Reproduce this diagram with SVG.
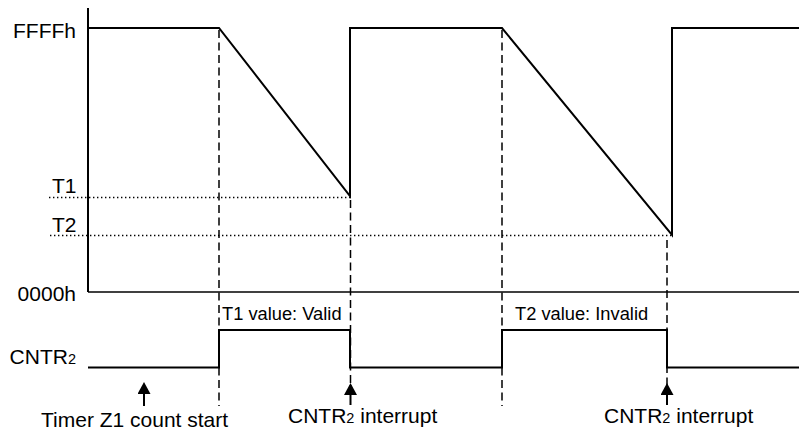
<svg xmlns="http://www.w3.org/2000/svg" width="799" height="428" viewBox="0 0 799 428">
  <defs>
    <style>
      .lbl { font-family: "Liberation Sans", Arial, sans-serif; font-size: 21px; fill: #000; }
      .small { font-size: 18.3px; }
      .sub { font-size: 14.5px; }
      .wave { fill: none; stroke: #000; stroke-width: 2; stroke-linejoin: miter; }
      .axis { fill: none; stroke: #000; stroke-width: 2; }
      .base { fill: none; stroke: #000; stroke-width: 1.6; }
      .dash { fill: none; stroke: #000; stroke-width: 1.5; stroke-dasharray: 8 4.5; }
      .dot { fill: none; stroke: #000; stroke-width: 1.4; stroke-dasharray: 1.4 2.6; }
      .arrow { fill: none; stroke: #000; stroke-width: 2; marker-end: url(#head); }
    </style>
    <marker id="head" markerUnits="userSpaceOnUse" viewBox="0 0 12 13" refX="10" refY="6.5" markerWidth="12" markerHeight="13" orient="auto">
      <path d="M0,0 L12,6.5 L0,13 Z" fill="#000"/>
    </marker>
  </defs>

  <!-- level guides for T1 and T2 -->
  <g id="guides">
    <line class="dot" x1="49" y1="197.5" x2="350" y2="197.5"/>
    <line class="dot" x1="50" y1="235.5" x2="671" y2="235.5"/>
  </g>

  <!-- count value axis -->
  <g id="axis">
    <line class="axis" x1="88" y1="8" x2="88" y2="292"/>
    <line class="base" x1="88" y1="292" x2="799" y2="292"/>
  </g>

  <!-- timer Z1 counter value -->
  <g id="counter">
    <polyline class="wave" points="88,28 219,28 350,196 350,28 502,28 672,235 672,28 799,28"/>
  </g>

  <!-- CNTR2 input signal -->
  <g id="cntr2-signal">
    <polyline class="wave" points="88,367.5 219,367.5 219,330 350,330 350,367.5 502,367.5 502,330 667,330 667,367.5 799,367.5"/>
  </g>

  <!-- edge markers and event arrows -->
  <g id="connectors">
    <line class="dash" x1="219" y1="30" x2="219" y2="406"/>
    <line class="dash" x1="350.5" y1="200" x2="350.5" y2="392"/>
    <line class="dash" x1="502" y1="30" x2="502" y2="406"/>
    <line class="dash" x1="667" y1="240" x2="667" y2="392"/>
    <line class="arrow" x1="144" y1="406" x2="144" y2="384"/>
    <line class="arrow" x1="350.5" y1="405" x2="350.5" y2="385"/>
    <line class="arrow" x1="667" y1="405" x2="667" y2="385"/>
  </g>

  <g id="label-ffff"><text class="lbl" x="76" y="38" text-anchor="end">FFFFh</text></g>
  <g id="label-t1"><text class="lbl" x="52" y="193">T1</text></g>
  <g id="label-t2"><text class="lbl" x="52" y="231.5">T2</text></g>
  <g id="label-0000"><text class="lbl" x="76" y="300.5" text-anchor="end">0000h</text></g>
  <g id="label-cntr2"><text class="lbl" x="76" y="363.5" text-anchor="end">CNTR<tspan class="sub">2</tspan></text></g>
  <g id="label-t1-valid"><text class="lbl small" x="222" y="320">T1 value: Valid</text></g>
  <g id="label-t2-invalid"><text class="lbl small" x="515" y="320">T2 value: Invalid</text></g>
  <g id="label-start"><text class="lbl" x="41" y="426.5">Timer Z1 count start</text></g>
  <g id="label-int1"><text class="lbl" x="288" y="423">CNTR<tspan class="sub">2</tspan> interrupt</text></g>
  <g id="label-int2"><text class="lbl" x="604" y="423">CNTR<tspan class="sub">2</tspan> interrupt</text></g>
</svg>
